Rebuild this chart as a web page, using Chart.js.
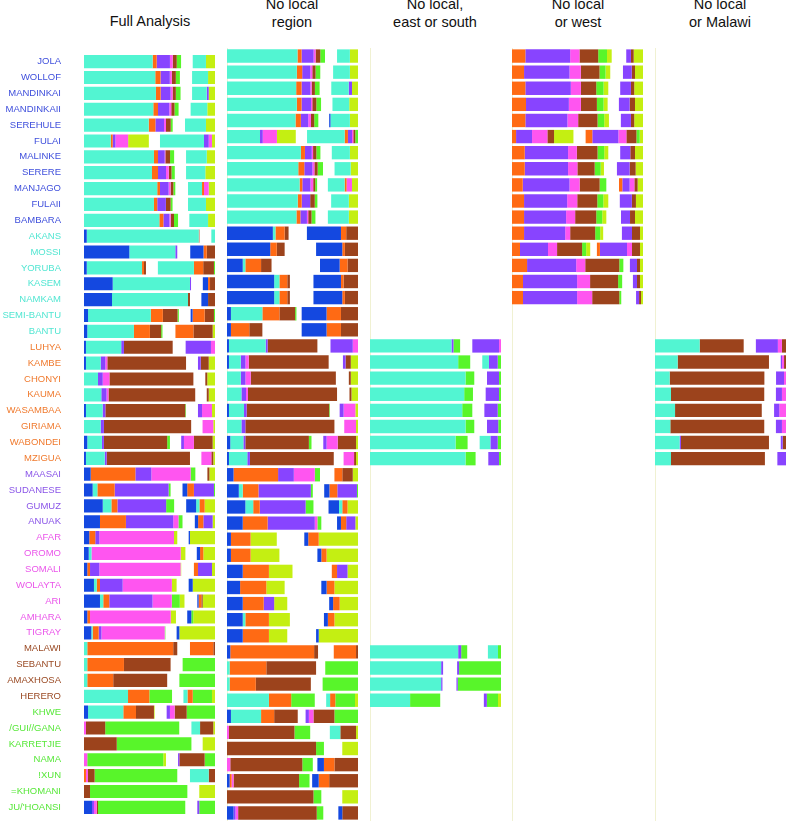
<!DOCTYPE html>
<html>
<head>
<meta charset="utf-8">
<script src="https://cdn.jsdelivr.net/npm/chart.js@4.4.1/dist/chart.umd.min.js"></script>
<style>
  html, body { margin: 0; padding: 0; background: #fff; }
  #wrap { position: relative; width: 786px; height: 821px; overflow: hidden;
          font-family: "Liberation Sans", Arial, Helvetica, sans-serif; }
  .title { position: absolute; width: 160px; text-align: center; font-size: 14.5px;
           line-height: 17.5px; color: #111; }
  .panel { position: absolute; top: 48px; height: 773px; }
</style>
</head>
<body>
<div id="wrap">
  <div class="title" style="left:70px;top:13px">Full Analysis</div>
  <div class="title" style="left:212px;top:-4px">No local<br>region</div>
  <div class="title" style="left:355px;top:-4px">No local,<br>east or south</div>
  <div class="title" style="left:498px;top:-4px">No local<br>or west</div>
  <div class="title" style="left:640px;top:-4px">No local<br>or Malawi</div>

  <div class="panel" style="left:0;width:215px"><canvas id="full"></canvas></div>
  <div class="panel" style="left:227px;width:131px"><canvas id="noRegion"></canvas></div>
  <div class="panel" style="left:370px;width:131px"><canvas id="noEastSouth"></canvas></div>
  <div class="panel" style="left:512px;width:131px"><canvas id="noWest"></canvas></div>
  <div class="panel" style="left:655px;width:131px"><canvas id="noMalawi"></canvas></div>
</div>

<script>
const populations = [
  "JOLA", "WOLLOF", "MANDINKAI", "MANDINKAII", "SEREHULE", "FULAI", "MALINKE", "SERERE",
  "MANJAGO", "FULAII", "BAMBARA", "AKANS", "MOSSI", "YORUBA", "KASEM", "NAMKAM",
  "SEMI-BANTU", "BANTU", "LUHYA", "KAMBE", "CHONYI", "KAUMA", "WASAMBAA", "GIRIAMA",
  "WABONDEI", "MZIGUA", "MAASAI", "SUDANESE", "GUMUZ", "ANUAK", "AFAR", "OROMO",
  "SOMALI", "WOLAYTA", "ARI", "AMHARA", "TIGRAY", "MALAWI", "SEBANTU", "AMAXHOSA",
  "HERERO", "KHWE", "/GUI//GANA", "KARRETJIE", "NAMA", "!XUN", "=KHOMANI", "JU/'HOANSI"
];

// region of each population (sets the label colour)
const popRegion = [
  "W","W","W","W","W","W","W","W","W","W","W",
  "C","C","C","C","C","C","C",
  "E","E","E","E","E","E","E","E",
  "N","N","N","N",
  "H","H","H","H","H","H","H",
  "S","S","S","S",
  "K","K","K","K","K","K","K"
];
const regionColors = { W: "#3f4fdc", C: "#52e6d2", E: "#f07a2e", N: "#8a55e8",
                       H: "#ea55ea", S: "#9a4a24", K: "#58e83a" };

// ancestry components, in the order they are stacked
const components = ["blue", "turquoise", "orange", "purple", "magenta", "brown", "green", "lime"];
const componentColors = ["#1448e0", "#52f5d2", "#ff6a14", "#8844ff", "#ff55f0", "#9c431c", "#58f52a", "#c4ef12"];

// each row: [blue, turquoise, orange, purple, magenta, brown, green, lime], percent of panel width
const fullLeft = [
  [0,52.4,3.1,10.1,2.1,3.1,3.3,0], [0,54.4,4.0,7.1,1.5,3.1,3.1,0], [0,54.9,3.6,7.6,1.5,2.5,3.6,0],
  [0,52.9,3.6,8.6,1.5,2.5,3.1,0], [0,49.4,5.1,6.6,1.5,3.6,1.5,0], [0,20.4,1.5,2.1,9.7,0,0,15.8],
  [0,53.4,3.1,5.1,0.5,3.6,3.1,0], [0,51.9,4.6,6.1,2.1,2.1,2.5,0], [0,55.9,2.1,6.6,1.5,2.1,1.5,0],
  [0,53.4,2.5,6.6,0,3.6,1.5,0], [0,57.5,3.1,4.6,1.0,2.5,3.1,0], [2.1,85.5,0,0,0,0.5,0,0],
  [34.6,35.1,0,1.5,0,0,0,0], [2.1,42.2,1.5,0,0,1.5,0,0], [21.9,59.0,0,0.8,0,0,0,0],
  [21.4,58.0,0,0,0,1.5,0,0], [3.1,47.9,9.2,0,0,11.2,1.0,0], [2.5,35.6,12.2,0,0,8.6,1.0,0],
  [1.5,26.9,0,2.1,0,37.2,0,0], [1.5,11.2,0,3.6,1.5,60.1,0,0], [0,10.7,0,3.6,5.1,64.1,0,0],
  [0,13.2,0,4.0,1.5,66.2,0,0], [1.5,12.7,0,2.1,0,61.0,0.5,0], [0,12.7,0,2.5,0,66.6,0,0],
  [2.5,11.2,0,1.5,0,48.3,2.1,0], [1.5,14.3,0,1.5,0,63.6,0,0], [5.1,0,34.1,12.2,30.0,0,3.6,0],
  [6.6,3.6,13.2,41.2,0,0,1.5,0], [14.3,6.6,4.6,37.2,0,0,6.1,0], [12.2,0,19.8,36.1,4.0,0,3.1,0],
  [4.0,0,4.6,3.1,57.0,0,0,2.5], [3.6,2.1,0,0,68.1,0,0,3.6], [2.5,0,2.1,7.1,62.0,0,0,0.5],
  [7.6,2.1,2.5,17.3,37.6,0,0,3.6], [12.2,2.5,4.6,33.0,14.7,0,6.1,3.6], [2.5,0,2.1,0,61.6,0,0,4.0],
  [5.6,1.0,4.6,2.1,48.3,0,0.5,0], [0,2.5,65.6,0,0,3.1,0,0], [0,2.5,28.0,0,0,35.6,0,0],
  [0,2.5,19.8,0,0,41.2,0,0], [0,33.6,16.3,0,0,0,17.3,0], [3.1,26.9,9.7,0,0,13.7,0,0.5],
  [0,0,0,0,1.5,14.7,56.5,0], [0,0,0,0,0,25.0,57.0,0], [0,0,0,0,2.5,0,58.0,2.1],
  [0,0,1.5,0,1.5,5.1,63.1,0], [0,0,0,0,0,4.6,74.3,0], [6.1,0,0,1.5,2.1,1.0,66.6,0]
];
const fullRight = [
  [0,10.1,0,0,0,0,0,6.9], [0,12.2,0,0,0,0,0,5.3], [0,11.2,0,1.5,0,0,0,4.8],
  [0,12.7,0,0,0,0,0,5.9], [0,16.0,0,0,0,0,0,6.9], [0,33.6,0,3.6,2.5,0,0,2.3],
  [0,15.8,0,0,0,0,0,6.3], [0,14.7,0,0,0,0,0,7.4], [0,10.7,1.5,0,3.6,0,0,4.8],
  [0,13.7,0,0,0,0,0,6.9], [0,14.3,0,0,0,0,0,5.3], [0,2.8,0,0,0,0,0,0],
  [10.1,0,2.5,0,0,6.3,0,0], [0,27.5,7.1,0,0,8.2,0.8,0], [4.0,0,1.5,0,0,3.8,0,0],
  [5.1,0,0,0,0,5.3,0,0], [1.5,0,9.2,0,0,7.1,0.8,0], [0,0,13.7,0,0,14.7,0,1.8],
  [0,0,0,19.3,3.1,0,0,0], [0,0,0,2.1,0,6.1,0,4.8], [0,0,0,0,0,1.5,0,5.9],
  [0,0,0,0,0,1.5,0,4.8], [0,0,0,3.1,7.6,0,0,2.3], [0,0,0,0,8.2,0,0,1.3],
  [0,0,0,2.1,7.6,14.3,0,1.8], [0,0,0,0,7.6,1.5,0,1.3], [0,0,0,0,0,1.5,0,4.3],
  [3.6,0,5.1,15.3,0,0,0.8,0], [7.6,2.5,4.0,0,0,0,0,7.9], [2.5,0,4.0,7.1,0,0,0,1.8],
  [1.0,0,0,0,0,0,0,19.1], [2.5,0,2.5,0,0,0,0,8.9], [0,0,3.1,10.7,0,0,0,2.3],
  [3.1,0,0,0,0,0,0,17.0], [1.0,0,2.1,0,0,1.0,0,9.4], [3.1,0,0,0,0,0,1.5,16.6],
  [2.1,0,0,0,0,0,0,27.2], [0,0,17.8,0,0,1.3,0,0], [0,0,0,0,0,0,24.7,0],
  [0,0,0,0,0,0,27.2,0], [0,3.1,4.0,0,0,0,14.7,2.3], [0,0,0,2.5,3.6,9.2,21.6,0],
  [0,6.6,0,0,0,10.1,0,1.3], [0,0,0,0,0,0,0,9.4], [0,0,0,1.0,0,19.3,7.9,0],
  [0,14.3,0,0,0,4.8,0,0], [0,0,0,0,0,0,0,12.0], [0,0,0,1.5,0,0,12.0,0]
];

const noRegionLeft = [
  [0,53.8,3.1,9.2,1.5,3.6,3.6,0], [0,53.3,4.1,6.2,1.5,2.5,3.6,0], [0,52.8,4.1,6.7,1.0,2.5,3.6,0],
  [0,53.3,3.6,7.2,1.0,3.1,3.6,0], [0,52.3,4.1,5.6,2.1,2.5,3.1,0], [0,25.2,0,2.1,10.8,0,0,14.4],
  [0,56.4,3.1,5.2,1.0,2.5,3.1,0], [0,54.4,4.6,6.2,1.5,2.5,4.1,0], [0,55.4,2.1,6.2,2.1,1.5,1.5,0],
  [0,54,3,6.5,0,3.5,2,0], [0,53,3,5,1,2.5,3,0], [35,2,7,0,0,3,0,0],
  [33,0,5,0,0,6,0,0], [12,2,12,0,0,8,0,0], [36,4,6,0,0,2,0,0],
  [36,4,6,0,0,2,0,0], [3,24,13,0,0,12,1,0], [3,0,14,0,0,10,0,0],
  [1.5,28,0,1.5,0,38,0,0], [1.5,9,0,3.6,2.5,61,0,0], [0,10.5,0,3.6,4,65,0,0],
  [0,11,0,3.5,1.5,68,0,0], [1.5,11.5,0,2,0,63,0.5,0], [0,11,0,3,0,68,0,0],
  [2.5,10,0,1.5,0,48.5,2,0], [1.5,14,0,2,0,64,0,0], [5,0,34,12,16,0,4,0],
  [9,3,12,40,0,0,1.5,0], [14,6,5,35,0,0,6,0], [12,0,19,36,2,0,3,0],
  [3,0,15,0,0,0,0,20], [3,0,15,0,0,0,0,22], [12,0,20,0,0,0,0,18],
  [10,0,20,0,0,0,0,14], [12,0,16,8,0,0,0,10], [12,2,18,0,0,0,0,16],
  [12,0,20,0,0,0,0,14], [2.5,0,64,0,0,3,0,0], [0,2,28,0,0,38,0,0],
  [0,2,20,0,0,42,0,0], [0,32,17,0,0,0,18,0], [3,23,10,0,0,18,0,0],
  [0,0,0,0,1.5,50,12,0], [0,0,0,0,0,68,6,0], [0,0,0,0,2.5,55,8,0],
  [2,0,1.5,0,1.5,50,8,0], [0,0,0,0,0,66,6,0], [5,0,0,1.5,2,60,5,0]
];
const noRegionRight = [
  [0,9.8,0,0,0,0,0,6.2], [0,12.8,0,0,0,0,0,6.2], [0,13.3,0,2.5,0,0,0,4.6],
  [0,12.8,0,0,0,0,0,6.7], [1.0,14.8,0,0,0,0,0,6.2], [0,28.7,2.5,3.1,1.0,1.5,2.1,0],
  [0,13.8,0,0,0,0,0,6.2], [0,12.3,0,0,0,0,0,5.6], [0,12.8,1.5,0,4.1,0,0,4.6],
  [0,13.5,0,0,0,0,0,7], [0,16,0,0,0,0,0,7], [26,0,4,0,0,9,0,0],
  [20,0,2,0,0,10,0,0], [15,0,6,0,0,8,0,0], [21,0,2,0,0,11,0,0],
  [22,0,2,0,0,10,0,0], [19,0,11,0,0,13,0,0], [19,0,11,0,0,13,0,0],
  [0,0,0,17,4,0,0,0], [0,0,0,2,0,4,0,5.5], [0,0,0,0,0,1.5,0,5.5],
  [0,0,0,0,0,1.5,0,5], [0,0,0,3,9,0,0,2], [0,0,0,0,9,0,0,1.5],
  [0,0,0,2.5,8.5,14,0,1.5], [0,0,0,0,8,1.5,0,1.5], [0,0,6,0,0,8,0,4],
  [4,0,6,15,0,0,0.8,0], [8,2.5,4,0,0,0,0,8], [3,0,4,7,0,0,0,2],
  [3,0,8,0,0,0,0,30], [3,0,4,0,0,0,0,24], [0,0,4,8,0,0,0,8],
  [4,0,6,0,0,0,0,18], [3,0,5,0,0,0,0,14], [3,0,5,0,0,0,0,18],
  [2,0,0,0,0,0,0,30], [0,0,17,0,0,1.5,0,0], [0,0,0,0,0,0,25,0],
  [0,0,0,0,0,0,27,0], [0,3,4,0,0,0,15,2.3], [0,0,0,2.5,3.5,16,18,0],
  [0,8,0,0,0,12,0,1.5], [0,0,0,0,0,0,0,12], [5,0,8,0,0,18,0,0],
  [5,0,8,0,0,22,0,0], [0,0,0,0,0,0,0,12], [3,0,0,0,0,12,0,0]
];

const N = null;
const noEastSouthLeft = [
  N,N,N,N,N,N,N,N,N,N,N,N,N,N,N,N,N,N,
  [0,62.2,0,1.5,0,0,5.1,0], [0,67.3,0,0,0,0,9.2,0], [0,72.9,0,0,0,0,6.7,0], [0,71.9,0,0,0,0,6.7,0],
  [0,70.4,0,0,0,0,7.7,0], [0,72.9,0,0,0,0,6.7,0], [0,65.3,0,0,0,0,9.2,0], [0,72.9,0,0,0,0,7.7,0],
  N,N,N,N,N,N,N,N,N,N,N,
  [0,67.3,0,2.3,0,0,4.6,0], [0,54.3,0,1.5,0,0,0,0], [0,54.3,0,1.0,0,0,0,0], [0,30.6,0,0,0,0,23,0],
  N,N,N,N,N,N,N
];
const noEastSouthRight = [
  N,N,N,N,N,N,N,N,N,N,N,N,N,N,N,N,N,N,
  [0,0,0,20.4,1.5,0,0,0], [0,5.1,0,6.7,0,0,2.5,0], [0,0,0,9.2,0,0,1.5,0], [0,0,0,10.2,0,0,1.5,0],
  [0,0,0,10.2,0,0,2.5,0], [0,0,0,8.6,0,0,2.1,0], [0,8.2,0,5.6,0,0,2.5,0], [0,0,0,8.2,0,0,1.5,0],
  N,N,N,N,N,N,N,N,N,N,N,
  [0,7.7,0,0,0,0,2.3,0], [0,0,0,1.5,0,0,32,0], [0,0,0,1.0,0,0,33,0], [0,0,0,2.3,0,0,8.5,2.3],
  N,N,N,N,N,N,N
];

const noWestLeft = [
  [0,0,10.2,34.2,7.1,14.3,6.7,3.6], [0,0,9.2,34.7,8.6,14.3,4.6,3.6], [0,0,10.2,34.7,7.7,11.7,5.6,3.6],
  [0,0,10.7,32.7,9.2,12.2,5.1,3.1], [0,0,10.2,32.1,8.2,14.8,5.1,3.6], [0,0,3.1,12.2,11.7,5.1,0,14.8],
  [0,0,9.7,33.1,6.7,15.8,5.1,3.1], [0,0,9.7,33.1,7.1,13.2,4.6,2.5], [0,0,8.2,35.7,7.7,15.3,5.1,0],
  [0,0,9.2,32.9,7.7,15.3,4.6,3.8], [0,0,9.2,32.1,6.9,16.1,4.6,3.1], [0,0,9.2,31.4,3.8,19.1,3.8,2.3],
  [0,0,6.1,21.4,6.9,19.1,3.1,3.1], [0,0,11.5,37.5,6.9,26.0,3.1,0], [0,0,8.4,41.3,9.9,21.4,3.1,0],
  [0,0,8.4,41.3,11.5,20.7,1.5,0],
  N,N,N,N,N,N,N,N,N,N,N,N,N,N,N,N,N,N,N,N,N,N,N,N,N,N,N,N,N,N,N,N
];
const noWestRight = [
  [0,0,0,3.6,0,2.1,0,7.1], [0,0,0,6.7,0,2.5,0,6.1], [0,0,0,8.2,0,2.5,0,6.7],
  [0,0,0,8.2,0,4.1,0,6.1], [0,0,0,7.7,0,2.5,0,6.7], [0,0,5.1,19.9,6.1,7.7,2.5,2.5],
  [0,0,0,7.7,0,3.6,0,6.1], [0,0,0,9.7,0,4.6,0,5.6], [0,0,2.5,5.6,3.6,2.5,0,4.1],
  [0,0,0,9.2,0,3.1,0,5.4], [0,0,0,6.9,0,3.8,0,6.1], [0,0,0,7.7,0,6.1,0,2.3],
  [0,0,2.3,20.7,3.8,6.1,0,2.3], [0,0,0,5.4,0,2.3,0,2.3], [0,0,0,3.1,0,2.3,0,2.3],
  [0,0,0,2.3,0,1.5,0,1.5],
  N,N,N,N,N,N,N,N,N,N,N,N,N,N,N,N,N,N,N,N,N,N,N,N,N,N,N,N,N,N,N,N
];

const noMalawiLeft = [
  N,N,N,N,N,N,N,N,N,N,N,N,N,N,N,N,N,N,
  [0,34.1,0,0,0,33.6,0,0], [0,17.3,0,0,0,69.7,0,0], [0,11.2,0,0,0,72.3,0,0], [0,12.2,0,0,0,71.2,0,0],
  [0,15.3,0,0,0,66.2,0,0], [0,11.7,0,0,0,71.7,0,0], [0,18.8,0,1.0,0,67.2,0,0], [0,12.2,0,0,0,71.7,0,0],
  N,N,N,N,N,N,N,N,N,N,N,N,N,N,N,N,N,N,N,N,N,N
];
const noMalawiRight = [
  N,N,N,N,N,N,N,N,N,N,N,N,N,N,N,N,N,N,
  [0,0,0,16.8,3.1,3.1,0,0], [0,0,0,1.0,1.5,1.5,0,0], [0,0,0,6.1,1.5,0,0,0], [0,0,0,4.6,3.1,0,0,0],
  [0,0,0,4.0,5.1,0,0,0], [0,0,0,4.6,3.1,0,0,0], [0,0,0,1.5,0,2.5,0,0], [0,0,0,6.6,0,0,0,0],
  N,N,N,N,N,N,N,N,N,N,N,N,N,N,N,N,N,N,N,N,N,N
];

const sum = a => a.reduce((s, v) => s + v, 0);

function buildDatasets(left, right) {
  const ds = [];
  components.forEach((name, k) => {
    ds.push({ label: name + " (left)", data: left.map(r => r ? r[k] : 0), backgroundColor: componentColors[k] });
  });
  // white space between the two bars of a row
  ds.push({ label: "gap", data: left.map((r, i) => r ? Math.max(0, 100 - sum(r) - sum(right[i])) : 0),
            backgroundColor: "rgba(0,0,0,0)" });
  components.forEach((name, k) => {
    ds.push({ label: name + " (right)", data: right.map(r => r ? r[k] : 0), backgroundColor: componentColors[k] });
  });
  return ds;
}

function makePanel(id, left, right, withLabels) {
  const yAxis = withLabels ? {
    stacked: true,
    // invisible tick marks push the labels 23px left of the bars
    grid: { display: true, drawOnChartArea: false, drawTicks: true, tickLength: 23, color: "rgba(0,0,0,0)" },
    border: { display: false },
    ticks: {
      autoSkip: false,
      padding: 0,
      color: ctx => regionColors[popRegion[ctx.index]],
      font: { family: "'Liberation Sans', Arial, sans-serif", size: 9.5 }
    },
    afterFit: s => { s.width = 84; }
  } : {
    stacked: true,
    grid: { display: false, drawTicks: false },
    border: { display: true, color: "#f0f1d2", width: 1 },
    ticks: { display: false },
    afterFit: s => { s.width = 0; }
  };

  new Chart(document.getElementById(id), {
    type: "bar",
    data: { labels: populations, datasets: buildDatasets(left, right) },
    options: {
      indexAxis: "y",
      animation: false,
      responsive: true,
      maintainAspectRatio: false,
      events: [],
      layout: { padding: 0 },
      datasets: { bar: { categoryPercentage: 1, barPercentage: 0.83, borderWidth: 0 } },
      plugins: { legend: { display: false }, tooltip: { enabled: false } },
      scales: {
        x: { stacked: true, min: 0, max: 100, display: false },
        y: yAxis
      }
    }
  });
}

makePanel("full", fullLeft, fullRight, true);
makePanel("noRegion", noRegionLeft, noRegionRight, false);
makePanel("noEastSouth", noEastSouthLeft, noEastSouthRight, false);
makePanel("noWest", noWestLeft, noWestRight, false);
makePanel("noMalawi", noMalawiLeft, noMalawiRight, false);
</script>
</body>
</html>
